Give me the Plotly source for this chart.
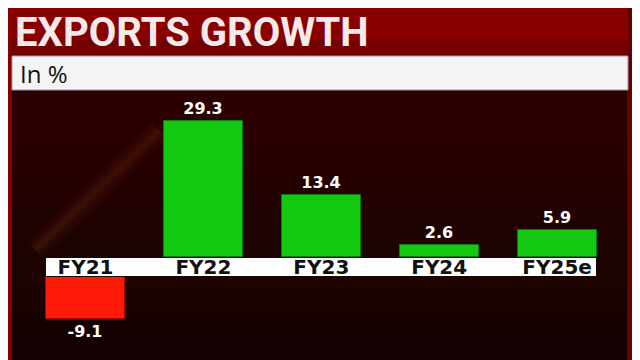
import plotly.graph_objects as go

# ---- data ----
categories = ["FY21", "FY22", "FY23", "FY24", "FY25e"]
growth = [-9.1, 29.3, 13.4, 2.6, 5.9]
title_text = "EXPORTS GROWTH"
subtitle_text = "In %"

W, H = 640, 360
OFF = 8  # page body offset compensation

def py(px):  # reference pixel-from-top -> paper y
    return 1 - (px - OFF) / H

def px_x(px):  # reference pixel-from-left -> paper x
    return (px - OFF) / W

pos_vals = [v if v >= 0 else None for v in growth]
neg_vals = [v if v < 0 else None for v in growth]

label_font = dict(family="DejaVu Sans", size=16, color="white", weight=700)

fig = go.Figure()
fig.add_trace(go.Bar(
    x=categories, y=pos_vals, xaxis="x", yaxis="y",
    marker=dict(color="#10c910", line=dict(color="#0b7d0b", width=1)),
    width=0.67, text=[f"{v:.1f}" if v is not None else "" for v in pos_vals],
    textposition="outside", constraintext="none", cliponaxis=False,
    textfont=label_font, showlegend=False, hoverinfo="skip",
))
fig.add_trace(go.Bar(
    x=categories, y=neg_vals, xaxis="x", yaxis="y2",
    marker=dict(color="#ff1a08", line=dict(color="#b00000", width=1)),
    width=0.67, text=[f"{v:.1f}" if v is not None else "" for v in neg_vals],
    textposition="outside", constraintext="none", cliponaxis=False,
    textfont=label_font, showlegend=False, hoverinfo="skip",
))

# scale: ~4.64 px per unit, zero of positives at 257px, zero of negatives at 277px
ppu = 4.64
top_px, zero_px = 100, 257
nzero_px, bot_px = 277, 345
span_x = W / 117.9
x0 = -(85.5 - OFF) / 117.9

shapes = []
# soft reddish glow toward the top
for lim in (230, 200, 170, 140, 115):
    shapes.append(dict(type="rect", xref="paper", yref="paper", x0=0, x1=1, y0=py(lim), y1=1,
                       fillcolor="rgba(90,0,0,0.07)", line_width=0, layer="below"))
# soft darkening toward the bottom
for lim in (290, 310, 330):
    shapes.append(dict(type="rect", xref="paper", yref="paper", x0=0, x1=1, y0=0, y1=py(lim),
                       fillcolor="rgba(0,0,0,0.12)", line_width=0, layer="below"))
# faint diagonal streak
for wdt, a in ((22, 0.05), (12, 0.07), (5, 0.08)):
    shapes.append(dict(type="line", xref="paper", yref="paper", x0=px_x(35), y0=py(250),
                       x1=px_x(160), y1=py(130),
                       line=dict(color=f"rgba(170,80,30,{a})", width=wdt), layer="below"))
shapes += [
    # left & right red strips
    dict(type="rect", xref="paper", yref="paper", x0=px_x(-10), x1=px_x(12), y0=0, y1=1.1,
         fillcolor="#860000", line_width=0, layer="below"),
    dict(type="rect", xref="paper", yref="paper", x0=px_x(627), x1=1.1, y0=0, y1=1.1,
         fillcolor="#640202", line_width=0, layer="below"),
    # title band
    dict(type="rect", xref="paper", yref="paper", x0=px_x(10), x1=px_x(628), y0=py(56), y1=py(4),
         fillcolor="#880000", line_width=0, layer="below"),
    dict(type="rect", xref="paper", yref="paper", x0=px_x(10), x1=px_x(628), y0=py(56), y1=py(40),
         fillcolor="#740000", line_width=0, layer="below"),
    # subtitle white band
    dict(type="rect", xref="paper", yref="paper", x0=px_x(12), x1=px_x(628), y0=py(90), y1=py(56),
         fillcolor="#f4f4f6", line=dict(color="#9a9aa8", width=1), layer="below"),
    # category label band
    dict(type="rect", xref="x", yref="paper", x0=-0.335, x1=4.33, y0=py(276), y1=py(258),
         fillcolor="white", line_width=0, layer="below"),
]

fig.update_layout(
    width=W, height=H, margin=dict(l=0, r=0, t=0, b=0),
    paper_bgcolor="#1e0303", plot_bgcolor="rgba(0,0,0,0)",
    bargap=0, barmode="overlay",
    xaxis=dict(domain=[0, 1], range=[x0, x0 + span_x], anchor="free", position=py(253),
               showgrid=False, zeroline=False, showline=False, ticks="",
               tickfont=dict(family="DejaVu Sans", size=20, color="#111111", weight=700),
               ticklabelstandoff=0),
    yaxis=dict(domain=[py(zero_px), py(top_px)], range=[0, (zero_px - top_px) / ppu],
               visible=False),
    yaxis2=dict(domain=[py(bot_px), py(nzero_px)], range=[-(bot_px - nzero_px) / ppu, 0],
                visible=False, anchor="x"),
    shapes=shapes,
    annotations=[
        dict(text=title_text, xref="paper", yref="paper", x=px_x(14), y=1,
             xanchor="left", yanchor="top", showarrow=False, borderpad=0,
             font=dict(family="Roboto", size=40, weight=700, color="#f6eaea")),
        dict(text=subtitle_text, xref="paper", yref="paper", x=px_x(18), y=py(73),
             xanchor="left", yanchor="middle", showarrow=False,
             font=dict(family="Open Sans", size=24, color="#111111")),
    ],
)

fig.write_html("out.html")
